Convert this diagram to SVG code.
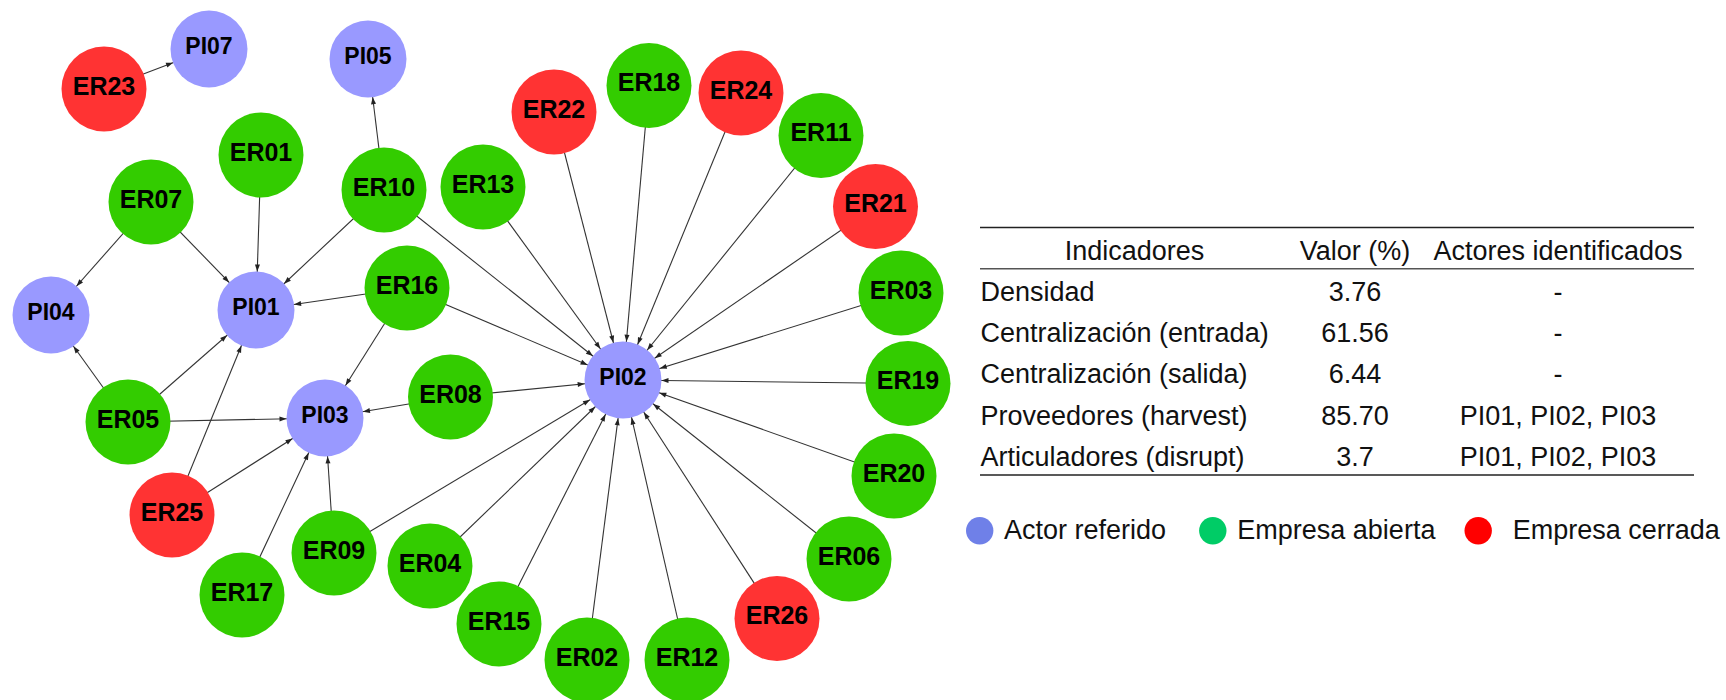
<svg xmlns="http://www.w3.org/2000/svg" width="1726" height="700" viewBox="0 0 1726 700">
  <style>
    .edge { stroke: #333; stroke-width: 1.1; fill: none; }
    .pi { fill: #9999ff; }
    .open { fill: #33cc00; }
    .closed { fill: #ff3333; }
    .lbl { font-family: "Liberation Sans", Arial, sans-serif; font-weight: bold; fill: #000; text-anchor: middle; }
    .er .lbl { font-size: 25px; }
    .pin .lbl { font-size: 23px; }
    .tbl { font-family: "Liberation Sans", Arial, sans-serif; font-size: 27px; fill: #111; }
    .mid { text-anchor: middle; }
    .rule { stroke: #222; stroke-width: 1.4; }
    .rule2 { stroke: #555; stroke-width: 1.4; }
  </style>
  <defs>
    <!-- arrow tip sits on the rim of a target node of radius 38.5 -->
    <marker id="arr" markerUnits="userSpaceOnUse" markerWidth="8" markerHeight="6" refX="45.5" refY="2.5" orient="auto" overflow="visible">
      <path d="M0,0 L7,2.5 L0,5 z" fill="#222"/>
    </marker>
  </defs>

  <rect width="1726" height="700" fill="#fff"/>

  <g id="edges">
    <line class="edge" x1="104" y1="89" x2="209" y2="49" marker-end="url(#arr)"/>
    <line class="edge" x1="384" y1="190" x2="368" y2="59" marker-end="url(#arr)"/>
    <line class="edge" x1="261" y1="155" x2="256" y2="310" marker-end="url(#arr)"/>
    <line class="edge" x1="151" y1="202" x2="51" y2="315" marker-end="url(#arr)"/>
    <line class="edge" x1="151" y1="202" x2="256" y2="310" marker-end="url(#arr)"/>
    <line class="edge" x1="384" y1="190" x2="256" y2="310" marker-end="url(#arr)"/>
    <line class="edge" x1="407" y1="288" x2="256" y2="310" marker-end="url(#arr)"/>
    <line class="edge" x1="128" y1="422" x2="51" y2="315" marker-end="url(#arr)"/>
    <line class="edge" x1="128" y1="422" x2="256" y2="310" marker-end="url(#arr)"/>
    <line class="edge" x1="172" y1="515" x2="256" y2="310" marker-end="url(#arr)"/>
    <line class="edge" x1="407" y1="288" x2="325" y2="418" marker-end="url(#arr)"/>
    <line class="edge" x1="128" y1="422" x2="325" y2="418" marker-end="url(#arr)"/>
    <line class="edge" x1="450.5" y1="397" x2="325" y2="418" marker-end="url(#arr)"/>
    <line class="edge" x1="172" y1="515" x2="325" y2="418" marker-end="url(#arr)"/>
    <line class="edge" x1="242" y1="595" x2="325" y2="418" marker-end="url(#arr)"/>
    <line class="edge" x1="334" y1="553" x2="325" y2="418" marker-end="url(#arr)"/>
    <line class="edge" x1="384" y1="190" x2="623" y2="380" marker-end="url(#arr)"/>
    <line class="edge" x1="483" y1="187" x2="623" y2="380" marker-end="url(#arr)"/>
    <line class="edge" x1="407" y1="288" x2="623" y2="380" marker-end="url(#arr)"/>
    <line class="edge" x1="554" y1="112" x2="623" y2="380" marker-end="url(#arr)"/>
    <line class="edge" x1="649" y1="85.5" x2="623" y2="380" marker-end="url(#arr)"/>
    <line class="edge" x1="741" y1="93" x2="623" y2="380" marker-end="url(#arr)"/>
    <line class="edge" x1="821" y1="135.5" x2="623" y2="380" marker-end="url(#arr)"/>
    <line class="edge" x1="875.5" y1="206.5" x2="623" y2="380" marker-end="url(#arr)"/>
    <line class="edge" x1="901" y1="293" x2="623" y2="380" marker-end="url(#arr)"/>
    <line class="edge" x1="908" y1="383.5" x2="623" y2="380" marker-end="url(#arr)"/>
    <line class="edge" x1="894" y1="476" x2="623" y2="380" marker-end="url(#arr)"/>
    <line class="edge" x1="849" y1="559" x2="623" y2="380" marker-end="url(#arr)"/>
    <line class="edge" x1="777" y1="618.5" x2="623" y2="380" marker-end="url(#arr)"/>
    <line class="edge" x1="687" y1="660" x2="623" y2="380" marker-end="url(#arr)"/>
    <line class="edge" x1="587" y1="660" x2="623" y2="380" marker-end="url(#arr)"/>
    <line class="edge" x1="499" y1="624" x2="623" y2="380" marker-end="url(#arr)"/>
    <line class="edge" x1="430" y1="566" x2="623" y2="380" marker-end="url(#arr)"/>
    <line class="edge" x1="334" y1="553" x2="623" y2="380" marker-end="url(#arr)"/>
    <line class="edge" x1="450.5" y1="397" x2="623" y2="380" marker-end="url(#arr)"/>
  </g>

  <g id="nodes">
    <g id="PI07" class="pin"><circle class="pi" cx="209" cy="49" r="38.5"/><text class="lbl" x="209" y="54">PI07</text></g>
    <g id="PI05" class="pin"><circle class="pi" cx="368" cy="59" r="38.5"/><text class="lbl" x="368" y="64">PI05</text></g>
    <g id="PI04" class="pin"><circle class="pi" cx="51" cy="315" r="38.5"/><text class="lbl" x="51" y="320">PI04</text></g>
    <g id="PI01" class="pin"><circle class="pi" cx="256" cy="310" r="38.5"/><text class="lbl" x="256" y="315">PI01</text></g>
    <g id="PI03" class="pin"><circle class="pi" cx="325" cy="418" r="38.5"/><text class="lbl" x="325" y="423">PI03</text></g>
    <g id="PI02" class="pin"><circle class="pi" cx="623" cy="380" r="38.5"/><text class="lbl" x="623" y="385">PI02</text></g>

    <g id="ER23" class="er"><circle class="closed" cx="104" cy="89" r="42.5"/><text class="lbl" x="104" y="94.5">ER23</text></g>
    <g id="ER01" class="er"><circle class="open" cx="261" cy="155" r="42.5"/><text class="lbl" x="261" y="160.5">ER01</text></g>
    <g id="ER07" class="er"><circle class="open" cx="151" cy="202" r="42.5"/><text class="lbl" x="151" y="207.5">ER07</text></g>
    <g id="ER10" class="er"><circle class="open" cx="384" cy="190" r="42.5"/><text class="lbl" x="384" y="195.5">ER10</text></g>
    <g id="ER13" class="er"><circle class="open" cx="483" cy="187" r="42.5"/><text class="lbl" x="483" y="192.5">ER13</text></g>
    <g id="ER22" class="er"><circle class="closed" cx="554" cy="112" r="42.5"/><text class="lbl" x="554" y="117.5">ER22</text></g>
    <g id="ER18" class="er"><circle class="open" cx="649" cy="85.5" r="42.5"/><text class="lbl" x="649" y="91">ER18</text></g>
    <g id="ER24" class="er"><circle class="closed" cx="741" cy="93" r="42.5"/><text class="lbl" x="741" y="98.5">ER24</text></g>
    <g id="ER11" class="er"><circle class="open" cx="821" cy="135.5" r="42.5"/><text class="lbl" x="821" y="141">ER11</text></g>
    <g id="ER21" class="er"><circle class="closed" cx="875.5" cy="206.5" r="42.5"/><text class="lbl" x="875.5" y="212">ER21</text></g>
    <g id="ER03" class="er"><circle class="open" cx="901" cy="293" r="42.5"/><text class="lbl" x="901" y="298.5">ER03</text></g>
    <g id="ER19" class="er"><circle class="open" cx="908" cy="383.5" r="42.5"/><text class="lbl" x="908" y="389">ER19</text></g>
    <g id="ER20" class="er"><circle class="open" cx="894" cy="476" r="42.5"/><text class="lbl" x="894" y="481.5">ER20</text></g>
    <g id="ER06" class="er"><circle class="open" cx="849" cy="559" r="42.5"/><text class="lbl" x="849" y="564.5">ER06</text></g>
    <g id="ER26" class="er"><circle class="closed" cx="777" cy="618.5" r="42.5"/><text class="lbl" x="777" y="624">ER26</text></g>
    <g id="ER12" class="er"><circle class="open" cx="687" cy="660" r="42.5"/><text class="lbl" x="687" y="665.5">ER12</text></g>
    <g id="ER02" class="er"><circle class="open" cx="587" cy="660" r="42.5"/><text class="lbl" x="587" y="665.5">ER02</text></g>
    <g id="ER15" class="er"><circle class="open" cx="499" cy="624" r="42.5"/><text class="lbl" x="499" y="629.5">ER15</text></g>
    <g id="ER04" class="er"><circle class="open" cx="430" cy="566" r="42.5"/><text class="lbl" x="430" y="571.5">ER04</text></g>
    <g id="ER09" class="er"><circle class="open" cx="334" cy="553" r="42.5"/><text class="lbl" x="334" y="558.5">ER09</text></g>
    <g id="ER17" class="er"><circle class="open" cx="242" cy="595" r="42.5"/><text class="lbl" x="242" y="600.5">ER17</text></g>
    <g id="ER25" class="er"><circle class="closed" cx="172" cy="515" r="42.5"/><text class="lbl" x="172" y="520.5">ER25</text></g>
    <g id="ER05" class="er"><circle class="open" cx="128" cy="422" r="42.5"/><text class="lbl" x="128" y="427.5">ER05</text></g>
    <g id="ER08" class="er"><circle class="open" cx="450.5" cy="397" r="42.5"/><text class="lbl" x="450.5" y="402.5">ER08</text></g>
    <g id="ER16" class="er"><circle class="open" cx="407" cy="288" r="42.5"/><text class="lbl" x="407" y="293.5">ER16</text></g>
  </g>

  <!-- indicator table -->
  <g id="table" class="tbl">
    <line class="rule" x1="980" y1="227.5" x2="1694" y2="227.5"/>
    <line class="rule2" x1="980" y1="268.7" x2="1694" y2="268.7"/>
    <line class="rule" x1="980" y1="475" x2="1694" y2="475"/>

    <text class="mid" x="1134.5" y="260">Indicadores</text>
    <text class="mid" x="1355" y="260">Valor (%)</text>
    <text class="mid" x="1558" y="260">Actores identificados</text>

    <text x="980.5" y="301">Densidad</text>
    <text class="mid" x="1355" y="301">3.76</text>
    <text class="mid" x="1558" y="301">-</text>

    <text x="980.5" y="342.2">Centralización (entrada)</text>
    <text class="mid" x="1355" y="342.2">61.56</text>
    <text class="mid" x="1558" y="342.2">-</text>

    <text x="980.5" y="383.4">Centralización (salida)</text>
    <text class="mid" x="1355" y="383.4">6.44</text>
    <text class="mid" x="1558" y="383.4">-</text>

    <text x="980.5" y="424.6">Proveedores (harvest)</text>
    <text class="mid" x="1355" y="424.6">85.70</text>
    <text class="mid" x="1558" y="424.6">PI01, PI02, PI03</text>

    <text x="980.5" y="465.8">Articuladores (disrupt)</text>
    <text class="mid" x="1355" y="465.8">3.7</text>
    <text class="mid" x="1558" y="465.8">PI01, PI02, PI03</text>
  </g>

  <!-- legend -->
  <g id="legend" class="tbl">
    <circle cx="979.7" cy="530.7" r="13.7" fill="#6f80e8"/>
    <text x="1004" y="539">Actor referido</text>
    <circle cx="1212.8" cy="530.7" r="13.7" fill="#00cc66"/>
    <text x="1237.3" y="539">Empresa abierta</text>
    <circle cx="1478.2" cy="530.7" r="13.7" fill="#ff0000"/>
    <text x="1512.7" y="539">Empresa cerrada</text>
  </g>
</svg>
